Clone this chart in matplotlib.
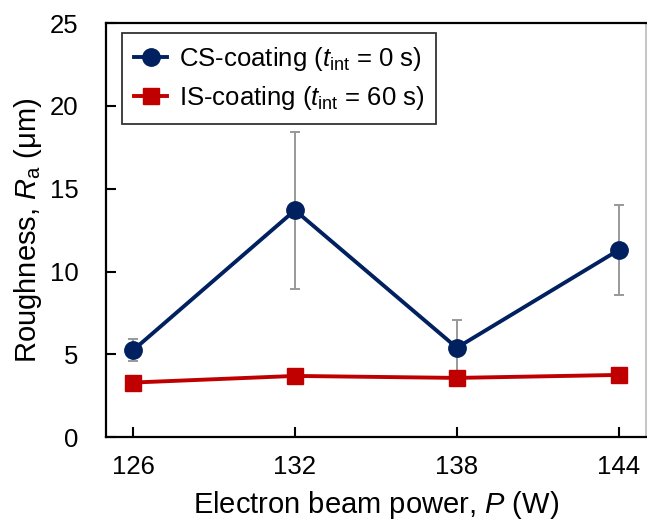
import matplotlib
matplotlib.use("Agg")
import matplotlib.pyplot as plt

plt.rcParams['font.family'] = ['Liberation Sans', 'DejaVu Sans']
plt.rcParams['mathtext.fontset'] = 'custom'
plt.rcParams['mathtext.rm'] = 'Liberation Sans'
plt.rcParams['mathtext.it'] = 'Liberation Sans:italic'

# data
power = [126, 132, 138, 144]
cs_ra = [5.25, 13.7, 5.4, 11.3]
cs_err = [0.65, 4.75, 1.65, 2.7]
is_ra = [3.3, 3.7, 3.58, 3.76]
is_err = [0.15, 0.15, 0.15, 0.15]

fig = plt.figure(figsize=(6.47, 5.23), dpi=100)
ax = fig.add_axes([0.164, 0.164, 0.834, 0.792])

navy = '#002060'
red = '#C00000'

ax.errorbar(power, cs_ra, yerr=cs_err, fmt='none', ecolor='#999999',
            elinewidth=1.4, capsize=3.5, capthick=1.4, zorder=1)
ax.errorbar(power, is_ra, yerr=is_err, fmt='none', ecolor='#999999',
            elinewidth=1.4, capsize=3.5, capthick=1.4, zorder=1)
ax.plot(power, cs_ra, '-o', color=navy, lw=2.8, ms=12.5, zorder=3,
        label=r'CS-coating ($t_\mathrm{int}$ = 0 s)')
ax.plot(power, is_ra, '-s', color=red, lw=2.8, ms=12, zorder=3,
        label=r'IS-coating ($t_\mathrm{int}$ = 60 s)')

ax.set_xlim(125, 145)
ax.set_ylim(0, 25)
ax.set_xticks(power)
ax.set_yticks([0, 5, 10, 15, 20, 25])

ax.tick_params(direction='in', length=7, width=1.5, labelsize=18.5)
ax.tick_params(axis='y', pad=20)
ax.tick_params(axis='x', pad=13)
for s in ['left', 'bottom', 'top']:
    ax.spines[s].set_linewidth(1.6)
ax.spines['right'].set_color('#bbbbbb')
ax.spines['right'].set_linewidth(1.2)

ax.set_xlabel(r'Electron beam power, $P$ (W)', fontsize=21, labelpad=7)
ax.set_ylabel(r'Roughness, $R_\mathrm{a}$ (μm)', fontsize=21, labelpad=4)

leg = ax.legend(loc='upper left', bbox_to_anchor=(0.03, 0.975), fontsize=18.5,
                frameon=True, fancybox=False, edgecolor='black',
                handlelength=1.3, handletextpad=0.45, borderpad=0.45,
                labelspacing=0.45, borderaxespad=0)
leg.get_frame().set_linewidth(1.3)

fig.savefig('out.png', dpi=100)
